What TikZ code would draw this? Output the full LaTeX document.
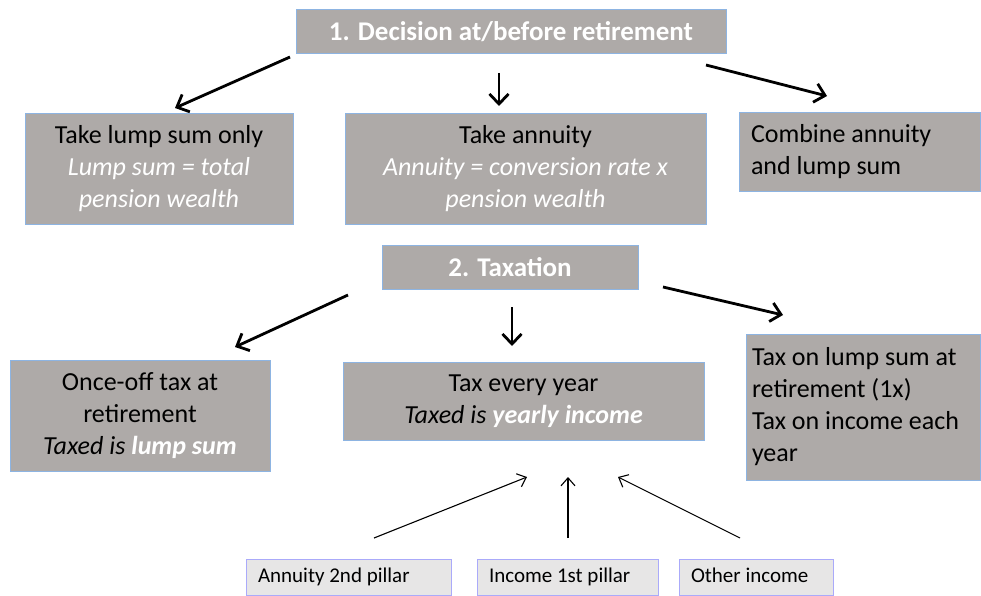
\documentclass[tikz,border=0pt]{standalone}
\usepackage{fontspec}
\setmainfont{Carlito}
\usetikzlibrary{arrows.meta, positioning}

\definecolor{boxgray}{RGB}{174,170,168}
\definecolor{boxedge}{RGB}{141,180,226}
\definecolor{lightbox}{RGB}{231,230,230}
\definecolor{lightedge}{RGB}{170,170,250}

\newcommand\paleit[1]{{\itshape\color{white}#1}}

\tikzset{
  graybox/.style={draw=boxedge, fill=boxgray, line width=1pt, inner sep=6pt,
    font=\fontsize{26}{32}\selectfont},
  titlebox/.style={graybox, text=white, font=\fontsize{27}{32}\selectfont\bfseries},
  pillarbox/.style={draw=lightedge, fill=lightbox, line width=0.8pt, inner xsep=12pt,
    text height=15pt, text depth=5pt, align=flush left, font=\fontsize{21}{25}\selectfont},
  bigarrow/.style={line width=2.8pt, -{Straight Barb[length=10pt,width=19pt]}},
  thinarrow/.style={line width=1.1pt, -{Straight Barb[length=8pt,width=14pt]}},
}

\begin{document}
\begin{tikzpicture}[x=1pt, y=-1pt]
    \useasboundingbox (0,0) rectangle (981,596);

    % step 1
    \node[titlebox, minimum width=430pt, minimum height=44pt] (decide) at (511,32)
        {1. Decision at/before retirement};
    \node[graybox, minimum width=268pt, minimum height=111pt, align=center] (lump) at (159,169)
        {Take lump sum only\\ \paleit{Lump sum = total}\\ \paleit{pension wealth}};
    \node[graybox, minimum width=361pt, minimum height=110pt, align=center] (annuity) at (525.5,169)
        {Take annuity\\ \paleit{Annuity = conversion rate x}\\ \paleit{pension wealth}};
    \node[graybox, inner xsep=12pt, text width=217pt, minimum height=78pt, align=flush left] (combine) at (859.5,152)
        {Combine annuity\\ and lump sum};

    \coordinate (d1s) at (290,57);  \coordinate (d1e) at (175,108);
    \coordinate (d2s) at (499,73);  \coordinate (d2e) at (499,106);
    \coordinate (d3s) at (706,65);  \coordinate (d3e) at (827,96);
    \draw[bigarrow] (d1s) -- (d1e);
    \draw[bigarrow] (d2s) -- (d2e);
    \draw[bigarrow] (d3s) -- (d3e);

    % step 2
    \node[titlebox, minimum width=256pt, minimum height=44pt] (tax) at (510,267) {2. Taxation};
    \node[graybox, minimum width=260pt, minimum height=111pt, align=center] (onceoff) at (140,416)
        {Once-off tax at\\ retirement\\ {\itshape Taxed is {\bfseries\color{white}lump sum}}};
    \node[graybox, minimum width=361pt, minimum height=78pt, align=center] (yearly) at (523.5,401)
        {Tax every year\\ {\itshape Taxed is {\bfseries\color{white}yearly income}}};
    \node[graybox, inner xsep=6pt, text width=222pt, minimum height=146pt, align=flush left] (both) at (863,407)
        {Tax on lump sum at\\ retirement (1x)\\ Tax on income each\\ year};

    \coordinate (t1s) at (348,295); \coordinate (t1e) at (235,347);
    \coordinate (t2s) at (512,307); \coordinate (t2e) at (512,346);
    \coordinate (t3s) at (663,287); \coordinate (t3e) at (783,315);
    \draw[bigarrow] (t1s) -- (t1e);
    \draw[bigarrow] (t2s) -- (t2e);
    \draw[bigarrow] (t3s) -- (t3e);

    % income sources
    \node[pillarbox, text width=181pt, minimum height=36pt] (second) at (348.5,577) {Annuity 2nd pillar};
    \node[pillarbox, text width=157pt, minimum height=36pt] (first) at (567.5,577) {Income 1st pillar};
    \node[pillarbox, text width=130pt, minimum height=36pt] (other) at (756,577) {Other income};

    \coordinate (i1s) at (374,538); \coordinate (i1e) at (527,477);
    \coordinate (i2s) at (568,538); \coordinate (i2e) at (568,477);
    \coordinate (i3s) at (740,538); \coordinate (i3e) at (618,477);
    \draw[thinarrow] (i1s) -- (i1e);
    \draw[thinarrow] (i2s) -- (i2e);
    \draw[thinarrow] (i3s) -- (i3e);
\end{tikzpicture}
\end{document}
